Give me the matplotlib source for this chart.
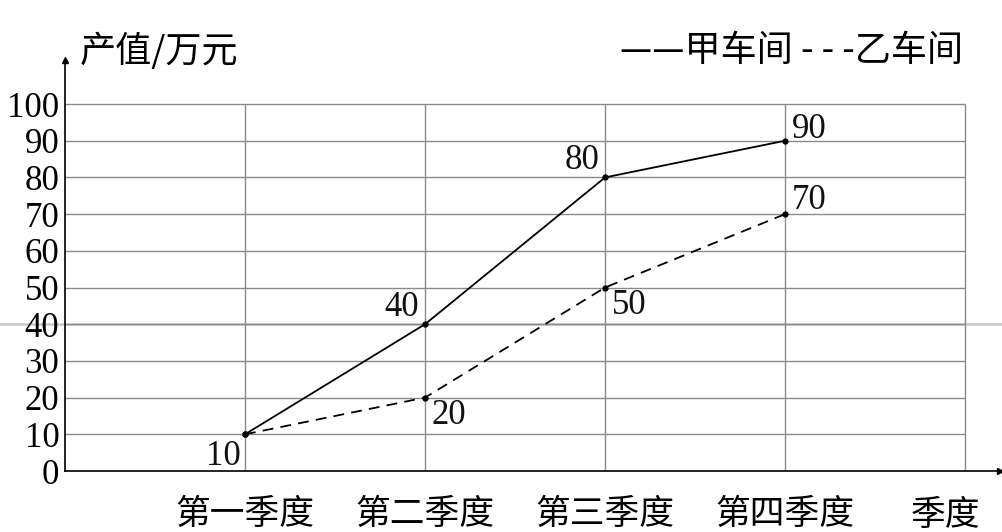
import matplotlib
matplotlib.use("Agg")
import matplotlib.pyplot as plt

quarters = ["第一季度", "第二季度", "第三季度", "第四季度"]
workshop_a = [10, 40, 80, 90]
workshop_b = [10, 20, 50, 70]
y_ticks = [0, 10, 20, 30, 40, 50, 60, 70, 80, 90, 100]

cjk = ["Noto Sans CJK SC", "DejaVu Sans"]
serif = "Liberation Serif"

fig = plt.figure(figsize=(10.02, 5.32), dpi=100)
ax = fig.add_axes([65 / 1002, 61 / 532, 935 / 1002, 411 / 532])
ax.patch.set_alpha(0)
ax.set_xlim(0, 5.194)
ax.set_ylim(0, 112)

x = list(range(1, len(quarters) + 1))

# grid, only inside the 0..5 / 0..100 box
ax.hlines(y_ticks[1:], 0, 5, color="#8a8a8a", lw=1.0, zorder=1)
ax.vlines(x + [5], 0, 100, color="#8a8a8a", lw=1.0, zorder=1)

# scan streak along the 40 line, across the whole page
streak = fig.add_artist(plt.Line2D([0, 1], [0.5, 0.5], color="#c8c8c8", lw=1.8, zorder=0))
streak.set_transform(ax.get_yaxis_transform() + fig.transFigure.inverted() + fig.transFigure)
streak.set_data([-65 / 935, 1.01], [40, 40])

ax.plot(x, workshop_a, color="black", lw=1.3, marker="o", ms=3.5, zorder=3)
ax.plot(x, workshop_b, color="black", lw=1.3, ls=(0, (6, 4)), marker="o", ms=3.5, zorder=3)

# value labels
lab = dict(fontsize=25, family=serif, color="#111111")
ax.annotate(str(workshop_a[0]), (x[0], workshop_a[0]), xytext=(-3, -4), textcoords="offset points", ha="right", va="top", **lab)
ax.annotate(str(workshop_a[1]), (x[1], workshop_a[1]), xytext=(-4, 0), textcoords="offset points", ha="right", va="bottom", **lab)
ax.annotate(str(workshop_a[2]), (x[2], workshop_a[2]), xytext=(-4, 0), textcoords="offset points", ha="right", va="bottom", **lab)
ax.annotate(str(workshop_a[3]), (x[3], workshop_a[3]), xytext=(5, -4), textcoords="offset points", ha="left", va="bottom", **lab)
ax.annotate(str(workshop_b[1]), (x[1], workshop_b[1]), xytext=(5, -1), textcoords="offset points", ha="left", va="top", **lab)
ax.annotate(str(workshop_b[2]), (x[2], workshop_b[2]), xytext=(5, -1), textcoords="offset points", ha="left", va="top", **lab)
ax.annotate(str(workshop_b[3]), (x[3], workshop_b[3]), xytext=(5, -2), textcoords="offset points", ha="left", va="bottom", **lab)

# axes with arrows
for s in ["top", "right"]:
    ax.spines[s].set_visible(False)
ax.spines["left"].set_linewidth(1.2)
ax.spines["bottom"].set_linewidth(1.2)
ax.plot(1, 0, ">k", ms=4, transform=ax.get_yaxis_transform(), clip_on=False)
ax.plot(0, 1, "^k", ms=4, transform=ax.get_xaxis_transform(), clip_on=False)

ax.set_yticks(y_ticks)
ax.set_yticklabels([str(v) for v in y_ticks], family=serif, fontsize=25)
ax.tick_params(axis="y", length=0, pad=4)
ax.set_xticks(x)
ax.set_xticklabels(quarters, family=cjk, fontsize=25)
ax.tick_params(axis="x", length=0, pad=19)

ax.text(4.89, -12.2, "季度", ha="center", va="center", fontsize=25, family=cjk)
ax.text(0.08, 114.5, "产值/万元", ha="left", va="center", fontsize=26, family=cjk, clip_on=False)
ax.text(4.99, 114.5, "——甲车间 - - -乙车间", ha="right", va="center", fontsize=26, family=cjk, clip_on=False)

fig.savefig("out.png", dpi=100)
